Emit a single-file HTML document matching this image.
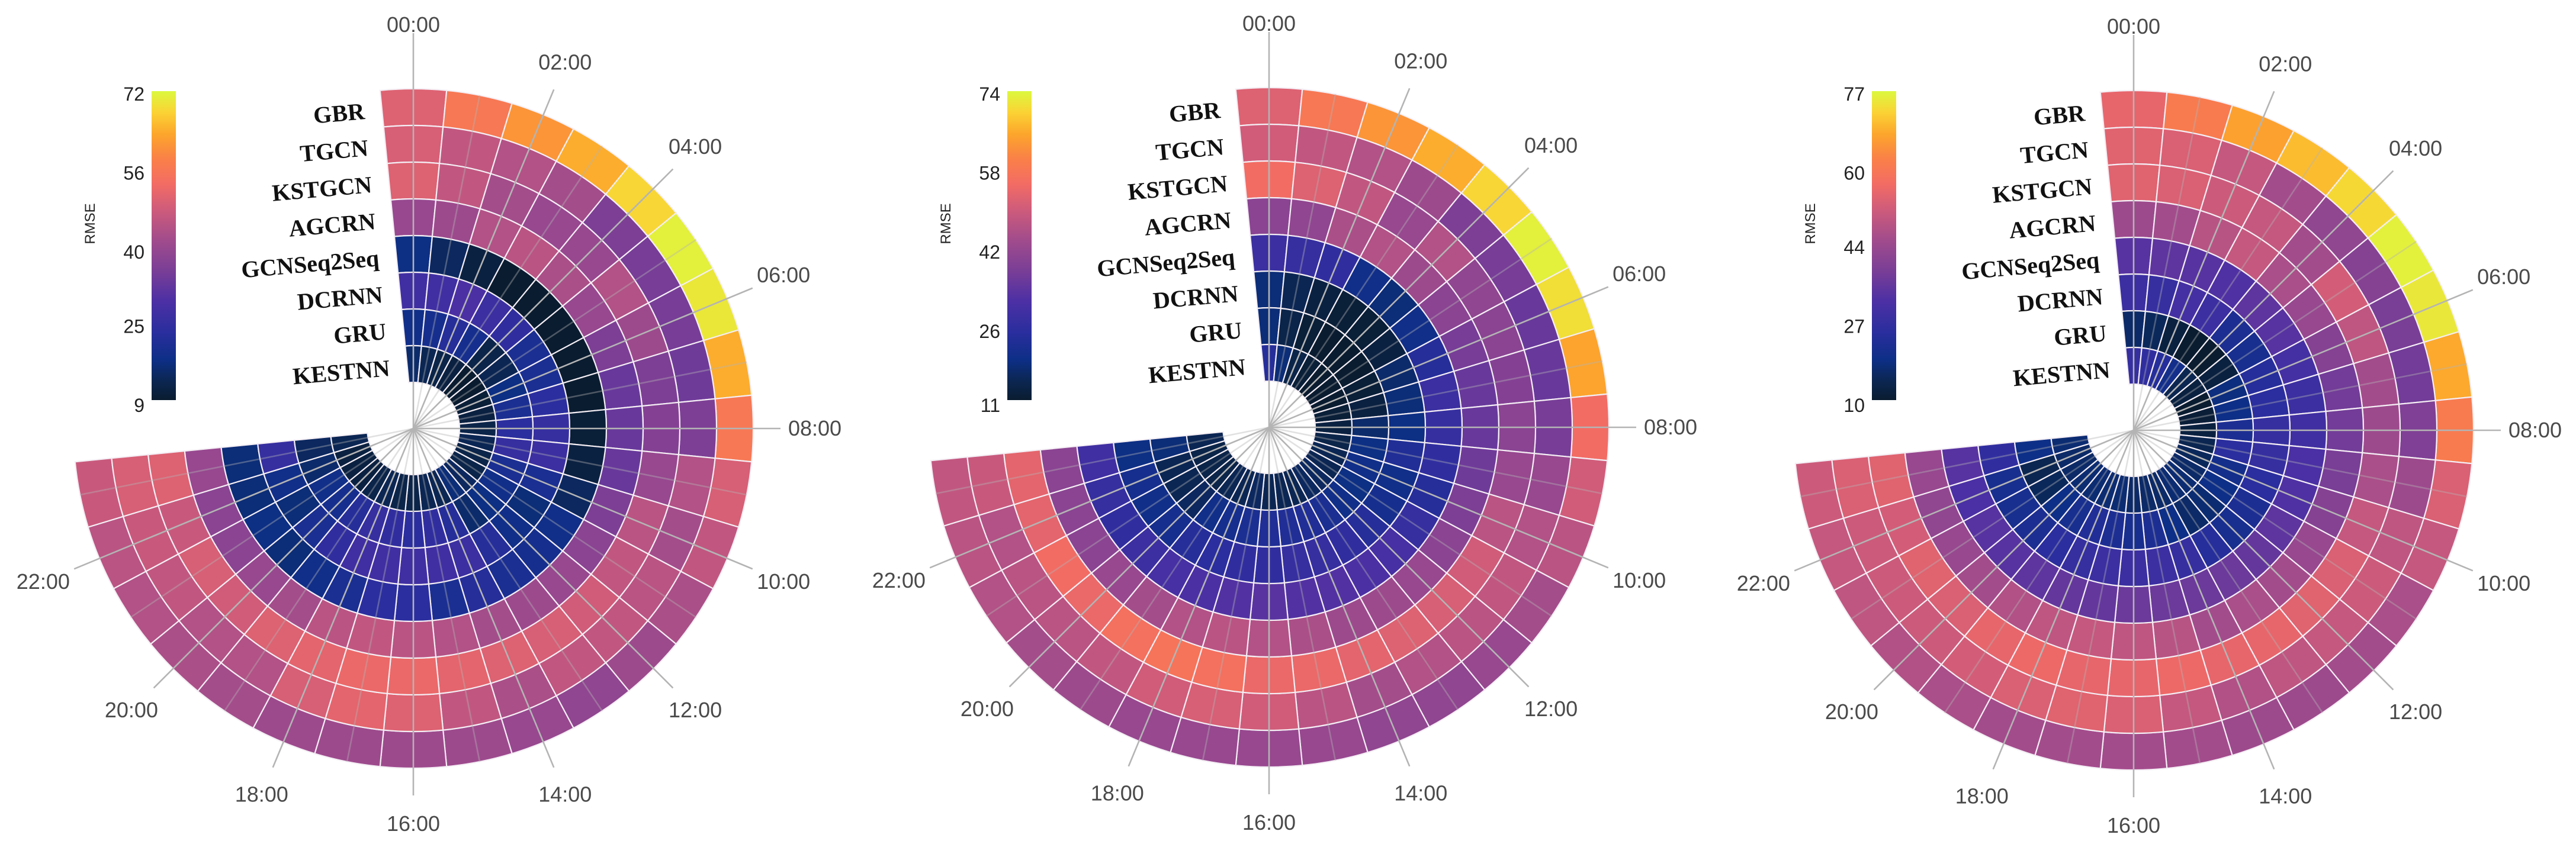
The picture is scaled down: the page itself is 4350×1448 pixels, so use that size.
<!DOCTYPE html>
<html><head><meta charset="utf-8"><style>
html,body{margin:0;padding:0;background:#fff;}
svg{display:block;}
</style></head><body>
<svg id="root" xmlns="http://www.w3.org/2000/svg" width="4350" height="1448" viewBox="0 0 4350 1448">
<defs>
<linearGradient id="cmapGrad" x1="0" y1="1" x2="0" y2="0"></linearGradient>
</defs>
<rect x="0" y="0" width="4350" height="1448" fill="#ffffff"/>
</svg>
<script>
const hourLabels = ["00:00","01:00","02:00","03:00","04:00","05:00","06:00","07:00","08:00","09:00","10:00","11:00","12:00","13:00","14:00","15:00","16:00","17:00","18:00","19:00","20:00","21:00","22:00","23:00"];
const models = ["GBR","TGCN","KSTGCN","AGCRN","GCNSeq2Seq","DCRNN","GRU","KESTNN"];

const chart1Ticks = [9,25,40,56,72];
const chart1Values = [
[50,56,61,64,68,71,70,64,56,49,46,43,41,39,40,41,41,41,41,42,43,44,45,47],
[49,46,44,42,36,35,35,34,36,44,42,45,46,46,43,46,50,51,49,44,44,46,47,49],
[50,46,42,40,40,44,41,36,37,40,45,46,48,49,50,51,52,52,51,50,48,49,47,50],
[40,41,44,45,43,40,36,33,33,33,36,38,40,41,42,44,45,46,45,42,40,38,38,40],
[17,14,11,9,9,9,9,9,10,11,14,18,19,20,22,20,23,23,20,18,16,17,16,16],
[27,27,29,26,24,20,20,23,25,26,20,16,18,22,26,27,27,27,27,24,20,16,18,25],
[18,19,22,19,12,13,17,20,23,25,20,18,17,15,22,24,23,24,25,22,19,18,15,14],
[15,13,12,11,9,9,10,11,12,13,12,12,14,16,13,13,12,12,13,12,11,11,11,13]
];
const chart2Ticks = [11,26,42,58,74];
const chart2Values = [
[52,58,63,66,70,73,71,65,55,50,47,44,42,41,41,42,42,42,42,43,44,46,47,48],
[50,48,46,43,38,37,35,35,37,42,46,48,47,46,44,47,50,51,50,48,47,47,46,49],
[55,52,48,42,46,41,40,39,40,42,47,50,51,52,53,54,54,56,57,56,54,55,53,53],
[40,41,45,46,43,40,37,35,35,36,38,40,42,43,43,45,46,47,46,44,42,40,40,40],
[28,27,26,20,18,20,24,28,27,26,24,27,30,31,32,32,33,32,31,30,28,26,27,29],
[18,15,13,12,12,13,17,18,19,23,20,21,24,26,27,27,26,26,25,24,21,20,21,19],
[18,14,12,11,11,11,12,13,17,19,20,19,20,22,23,23,23,22,21,20,16,15,15,18],
[24,18,14,12,11,11,11,12,13,14,15,15,16,16,15,15,15,16,15,15,14,14,14,15]
];
const chart3Ticks = [10,27,44,60,77];
const chart3Values = [
[55,61,67,70,73,76,75,68,61,53,50,46,45,44,44,45,45,45,45,46,47,49,50,51],
[54,53,50,45,42,40,38,37,39,44,49,51,50,49,47,50,53,54,53,52,51,51,51,53],
[54,53,51,50,45,52,49,45,44,46,50,53,54,55,55,56,55,55,56,55,53,54,52,54],
[44,45,48,50,46,43,40,37,37,38,40,43,45,46,45,48,49,50,49,47,45,43,42,43],
[33,34,33,32,34,33,30,28,29,31,32,34,35,36,36,36,36,35,35,34,33,33,31,33],
[28,27,30,28,22,21,24,25,27,27,25,22,21,24,27,28,28,28,27,25,22,21,21,26],
[16,15,12,10,10,12,18,19,22,25,20,19,17,16,19,22,21,22,23,21,19,15,14,19],
[27,26,24,20,14,12,10,11,12,14,15,16,17,17,16,16,16,17,17,17,17,16,16,17]
];

const cmapStops = [[0,"#0a1c30"],[0.06,"#0b2650"],[0.13,"#0d2f86"],[0.22,"#2a2e9e"],[0.32,"#4c30a4"],[0.42,"#7a3e96"],[0.52,"#a24c8c"],[0.62,"#d05c7a"],[0.70,"#f36c64"],[0.78,"#fa8048"],[0.86,"#fca52c"],[0.93,"#fbd234"],[1.0,"#dcf93e"]];

const NS = "http://www.w3.org/2000/svg";
const root = document.getElementById("root");
const grad = document.getElementById("cmapGrad");
cmapStops.forEach(s => {
  const st = document.createElementNS(NS, "stop");
  st.setAttribute("offset", s[0]);
  st.setAttribute("stop-color", s[1]);
  grad.appendChild(st);
});

function hex2rgb(h){return [parseInt(h.slice(1,3),16),parseInt(h.slice(3,5),16),parseInt(h.slice(5,7),16)];}
function cmap(t){
  t = Math.max(0, Math.min(1, t));
  for (let i = 1; i < cmapStops.length; i++) {
    if (t <= cmapStops[i][0]) {
      const a = cmapStops[i-1], b = cmapStops[i];
      const f = (t - a[0]) / (b[0] - a[0]);
      const ca = hex2rgb(a[1]), cb = hex2rgb(b[1]);
      return "rgb(" + ca.map((v,k)=>Math.round(v + (cb[k]-v)*f)).join(",") + ")";
    }
  }
  return cmapStops[cmapStops.length-1][1];
}
function el(tag, attrs, parent){
  const e = document.createElementNS(NS, tag);
  for (const k in attrs) e.setAttribute(k, attrs[k]);
  (parent || root).appendChild(e);
  return e;
}
const STEP = 11.25;
function angleOf(h){ return h * STEP; }
function pt(cx, cy, r, deg){ const a = deg*Math.PI/180; return [cx + r*Math.sin(a), cy - r*Math.cos(a)]; }
const R_OUT = 574, RING = 62;
function ringOuter(i){ return R_OUT - i*RING; }

function drawChart(idx, cx, cy, values, ticks){
  const g = el("g", {});
  
  
  const vmin = ticks[0], vmax = ticks[ticks.length-1];
  values.forEach((row, i) => {
    const ro = ringOuter(i), ri = ro - RING;
    row.forEach((v, h) => {
      const a0 = angleOf(h) - STEP/2, a1 = angleOf(h) + STEP/2;
      const p1 = pt(cx,cy,ro,a0), p2 = pt(cx,cy,ro,a1), p3 = pt(cx,cy,ri,a1), p4 = pt(cx,cy,ri,a0);
      const d = "M"+p1[0]+","+p1[1]+" A"+ro+","+ro+" 0 0 1 "+p2[0]+","+p2[1]+" L"+p3[0]+","+p3[1]+" A"+ri+","+ri+" 0 0 0 "+p4[0]+","+p4[1]+" Z";
      const c = el("path", {d: d, fill: cmap((v - vmin)/(vmax - vmin)), stroke: "#f4eef4", "stroke-width": 2.2}, g);
      
      
    });
  });
  hourLabels.forEach((lab, h) => {
    const a = angleOf(h);
    const even = h % 2 === 0;
    const len = h === 0 ? 668 : (even ? 620 : R_OUT);
    const p = pt(cx,cy,len,a);
    const s = el("line", {x1: cx, y1: cy, x2: p[0], y2: p[1], stroke: "#b4b4b4", "stroke-width": 2.6, "stroke-opacity": even ? 1 : 0.4}, g);
    
    
    if (even) {
      const sa = Math.sin(a*Math.PI/180), ca = Math.cos(a*Math.PI/180);
      const rl = h === 0 ? 682 : 630 + Math.sqrt((sa*48)*(sa*48) + (ca*38)*(ca*38));
      const q = pt(cx,cy,rl,a);
      const t = el("text", {x: q[0], y: q[1] + 12, "text-anchor": "middle", "font-family": "Liberation Sans, sans-serif", "font-size": 36, fill: "#4a4a4a"}, g);
      t.textContent = lab;
      
      
    }
  });
  models.forEach((m, i) => {
    const rm = ringOuter(i) - RING/2;
    const x = cx - rm*Math.sin(STEP/2*Math.PI/180) - 28;
    const y = cy - rm + 20;
    const t = el("text", {x: x, y: y, "text-anchor": "end", "font-family": "Liberation Serif, serif", "font-weight": "bold", "font-size": 40, fill: "#111", transform: "rotate(-5 "+x+" "+y+")"}, g);
    t.textContent = m;
    
    
  });
  const cbx = cx - 442, cbTop = 154, cbH = 522;
  const cb = el("rect", {x: cbx, y: cbTop, width: 41, height: cbH, fill: "url(#cmapGrad)"}, g);
  
  
  ticks.forEach(v => {
    const yy = 158 + (1 - (v - vmin)/(vmax - vmin)) * 526;
    const t = el("text", {x: cbx - 12, y: yy + 12, "text-anchor": "end", "font-family": "Liberation Sans, sans-serif", "font-size": 32, fill: "#222"}, g);
    t.textContent = v;
    
    
  });
  const rx = cx - 538, ry = 378;
  const rt = el("text", {x: rx, y: ry, "text-anchor": "middle", "font-family": "Liberation Sans, sans-serif", "font-size": 24, fill: "#222", transform: "rotate(-90 "+rx+" "+ry+")"}, g);
  rt.textContent = "RMSE";
  
  
}

drawChart(0, 698, 724, chart1Values, chart1Ticks);
drawChart(1, 2143, 722, chart2Values, chart2Ticks);
drawChart(2, 3603, 727, chart3Values, chart3Ticks);
</script>
</body></html>
